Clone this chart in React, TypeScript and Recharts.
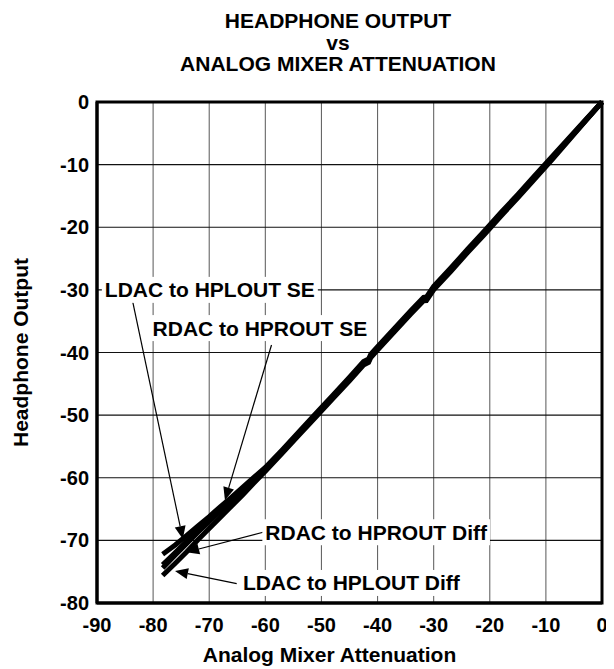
import React from 'react';
import { LineChart, Line, XAxis, YAxis, CartesianGrid, ReferenceArea, ReferenceLine, ReferenceDot } from 'recharts';

// attenuation setting (dB) shared by all four curves
const attenuation = [-78.3, -76, -74, -72, -70, -68, -66, -64, -62, -60, -57, -54, -51, -48, -45, -42.5, -41.6, -41.2, -40, -37, -34, -31.8, -31.3, -30, -27, -24, -21, -18, -15, -12, -9, -6, -3, 0];

const ldacSE = [-72.2, -70.7, -69.2, -67.7, -66.2, -64.6, -63.1, -61.5, -59.9, -58.35, -55.55, -52.65, -49.75, -46.85, -43.95, -41.45, -41.05, -40.25, -39.05, -36.15, -33.25, -31.2, -31.15, -29.45, -26.55, -23.55, -20.65, -17.65, -14.75, -11.75, -8.8, -5.85, -2.9, 0];
const rdacSE = [-73.9, -71.9, -70.1, -68.4, -66.7, -65.0, -63.3, -61.7, -60.1, -58.6, -55.8, -52.9, -50.0, -47.1, -44.2, -41.7, -41.3, -40.5, -39.3, -36.4, -33.5, -31.45, -31.4, -29.7, -26.8, -23.8, -20.9, -17.9, -15.0, -12.0, -9.0, -6.0, -3.0, 0];
const rdacDiff = [-74.4, -72.3, -70.5, -68.7, -67.0, -65.3, -63.6, -61.9, -60.3, -58.7, -55.9, -53.0, -50.1, -47.2, -44.3, -41.8, -41.4, -40.6, -39.4, -36.5, -33.6, -31.55, -31.5, -29.8, -26.9, -23.9, -21.0, -18.0, -15.1, -12.1, -9.1, -6.1, -3.05, 0];
const ldacDiff = [-75.6, -73.6, -71.8, -69.9, -68.1, -66.3, -64.5, -62.7, -60.8, -58.95, -56.1, -53.2, -50.3, -47.4, -44.5, -42.0, -41.6, -40.8, -39.6, -36.7, -33.8, -31.75, -31.7, -30.0, -27.1, -24.1, -21.2, -18.2, -15.3, -12.3, -9.3, -6.2, -3.1, 0];

const xTicks = [-90, -80, -70, -60, -50, -40, -30, -20, -10, 0];
const yTicks = [-80, -70, -60, -50, -40, -30, -20, -10, 0];

// callouts: text anchor (left edge, vertical centre) and arrow from -> tip, all in data units
const callouts = [
    { text: 'LDAC to HPLOUT SE', tx: -88.6, ty: -30.0, from: [-83.8, -31.2], tip: [-74.7, -69.8] },
    { text: 'RDAC to HPROUT SE', tx: -80.1, ty: -36.1, from: [-58.9, -38.8], tip: [-67.2, -63.6] },
    { text: 'RDAC to HPROUT Diff', tx: -60.0, ty: -68.7, from: [-60.4, -68.7], tip: [-74.1, -71.9] },
    { text: 'LDAC to HPLOUT Diff', tx: -64.0, ty: -76.8, from: [-65.1, -76.9], tip: [-76.1, -74.9] },
];

const FONT = "'Liberation Sans', Arial, sans-serif";

const data = attenuation.map((x, i) => ({
    x,
    ldacSE: ldacSE[i],
    rdacSE: rdacSE[i],
    rdacDiff: rdacDiff[i],
    ldacDiff: ldacDiff[i],
}));

let ctx: CanvasRenderingContext2D | null = null;
const textWidth = (s: string, size: number) => {
    if (!ctx) ctx = document.createElement('canvas').getContext('2d');
    if (!ctx) return s.length * size * 0.58;
    ctx.font = `bold ${size}px ${FONT}`;
    return ctx.measureText(s).width;
};

const Arrow = (props: any) => {
    const { x1, y1, x2, y2 } = props;
    const ang = Math.atan2(y2 - y1, x2 - x1);
    const len = 13;
    const hw = 5.5;
    const bx = x2 - len * Math.cos(ang);
    const by = y2 - len * Math.sin(ang);
    const px = -Math.sin(ang) * hw;
    const py = Math.cos(ang) * hw;
    return (
        <g>
            <line x1={x1} y1={y1} x2={bx} y2={by} stroke="#000" strokeWidth={1.2} />
            <polygon points={`${x2},${y2} ${bx + px},${by + py} ${bx - px},${by - py}`} fill="#000" />
        </g>
    );
};

const calloutLabel = (text: string) => (props: any) => {
    const { cx, cy } = props;
    const size = 21;
    const w = textWidth(text, size);
    return (
        <g>
            <rect x={cx - 3} y={cy - 13} width={w + 6} height={26} fill="#fff" />
            <text x={cx} y={cy} dominantBaseline="central" fontFamily={FONT} fontWeight="bold" fontSize={size} fill="#000">
                {text}
            </text>
        </g>
    );
};

function App() {
    const tickStyle = { fontFamily: FONT, fontWeight: 'bold', fontSize: 20, fill: '#000' };
    return (
        <div style={{ position: 'relative', width: 606, height: 661, fontFamily: FONT }}>
            <div style={{ position: 'absolute', top: 2, left: 54, width: 552, textAlign: 'center', fontWeight: 'bold', fontSize: 21, lineHeight: '21.7px', zIndex: 2 }}>
                <div>HEADPHONE OUTPUT</div>
                <div>vs</div>
                <div>ANALOG MIXER ATTENUATION</div>
            </div>
            <LineChart width={606} height={661} data={data} margin={{ top: 94, right: 12, bottom: 0, left: 0 }}>
                <CartesianGrid horizontal={false} stroke="#666" strokeWidth={1.1} />
                <CartesianGrid vertical={false} stroke="#111" strokeWidth={1.1} />
                <XAxis
                    type="number"
                    dataKey="x"
                    domain={[-90, 0]}
                    ticks={xTicks}
                    interval={0}
                    height={66}
                    tickLine={false}
                    tickMargin={9}
                    axisLine={{ stroke: '#000', strokeWidth: 3 }}
                    tick={tickStyle}
                    label={{ value: 'Analog Mixer Attenuation', position: 'insideBottom', offset: 7, dx: -20, style: { fontFamily: FONT, fontWeight: 'bold', fontSize: 21, fill: '#000' } }}
                />
                <YAxis
                    type="number"
                    domain={[-80, 0]}
                    ticks={yTicks}
                    interval={0}
                    width={89}
                    tickLine={false}
                    axisLine={{ stroke: '#000', strokeWidth: 3 }}
                    tick={tickStyle}
                    label={{ value: 'Headphone Output', angle: -90, position: 'insideLeft', offset: 13, style: { textAnchor: 'middle', fontFamily: FONT, fontWeight: 'bold', fontSize: 21, fill: '#000' } }}
                />
                <Line type="linear" dataKey="ldacSE" stroke="#000" strokeWidth={5} dot={false} isAnimationActive={false} />
                <Line type="linear" dataKey="rdacSE" stroke="#000" strokeWidth={5} dot={false} isAnimationActive={false} />
                <Line type="linear" dataKey="rdacDiff" stroke="#000" strokeWidth={5} dot={false} isAnimationActive={false} />
                <Line type="linear" dataKey="ldacDiff" stroke="#000" strokeWidth={5} dot={false} isAnimationActive={false} />
                <ReferenceArea x1={-90} x2={0} y1={-80} y2={0} fill="none" stroke="#000" strokeWidth={3} fillOpacity={0} />
                {callouts.map((c) => (
                    <ReferenceDot key={c.text + '-t'} x={c.tx} y={c.ty} r={0} shape={calloutLabel(c.text)} />
                ))}
                {callouts.map((c) => (
                    <ReferenceLine
                        key={c.text + '-a'}
                        segment={[{ x: c.from[0], y: c.from[1] }, { x: c.tip[0], y: c.tip[1] }]}
                        shape={Arrow}
                    />
                ))}
            </LineChart>
        </div>
    );
}

export default App;
